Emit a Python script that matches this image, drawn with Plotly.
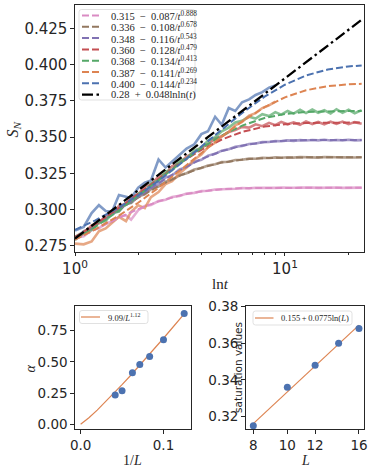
import plotly.graph_objects as go

# ---- top panel: S_N vs ln t ----
ln_t = [1.0, 1.1, 1.2, 1.3, 1.4, 1.5, 1.62, 1.75, 1.85, 2.0, 2.15, 2.3, 2.5, 2.7, 2.9,
        3.15, 3.4, 3.7, 4.0, 4.3, 4.65, 5.0, 5.4, 5.8, 6.25, 6.75, 7.25, 7.8, 8.4, 9.0,
        9.6, 10.3, 11.0, 11.8, 12.6, 13.5, 14.4, 15.4, 16.5, 17.6, 18.8, 20.1, 21.5, 23.2]

sim_pink = [0.2805, 0.2815, 0.2858, 0.2870, 0.2905, 0.2915, 0.2950, 0.2960, 0.2930, 0.2995,
            0.3025, 0.3032, 0.3058, 0.3068, 0.3087, 0.3094, 0.3110, 0.3115, 0.3127, 0.3129,
            0.3138, 0.3139, 0.3145, 0.3143, 0.3148, 0.3146, 0.3150, 0.3148, 0.3151, 0.3149,
            0.3151, 0.3149, 0.3150, 0.3152, 0.3149, 0.3151, 0.3149, 0.3151, 0.3150, 0.3152,
            0.3149, 0.3151, 0.3150, 0.3151]
sim_brown = [0.2800, 0.2838, 0.2875, 0.2920, 0.2935, 0.2975, 0.2995, 0.3040, 0.3045, 0.3090,
             0.3105, 0.3140, 0.3158, 0.3192, 0.3205, 0.3236, 0.3250, 0.3276, 0.3286, 0.3304,
             0.3312, 0.3327, 0.3330, 0.3342, 0.3343, 0.3351, 0.3350, 0.3357, 0.3355, 0.3360,
             0.3357, 0.3361, 0.3358, 0.3362, 0.3359, 0.3361, 0.3358, 0.3362, 0.3359, 0.3361,
             0.3360, 0.3362, 0.3359, 0.3361]
sim_purple = [0.2795, 0.2850, 0.2868, 0.2915, 0.2930, 0.2975, 0.2990, 0.3040, 0.3048, 0.3095,
              0.3112, 0.3155, 0.3176, 0.3220, 0.3235, 0.3276, 0.3292, 0.3330, 0.3343, 0.3372,
              0.3384, 0.3406, 0.3416, 0.3433, 0.3439, 0.3452, 0.3455, 0.3465, 0.3466, 0.3473,
              0.3471, 0.3477, 0.3474, 0.3479, 0.3476, 0.3480, 0.3477, 0.3481, 0.3476, 0.3480,
              0.3477, 0.3481, 0.3477, 0.3479]
sim_red = [0.2800, 0.2835, 0.2890, 0.2905, 0.2960, 0.2970, 0.3025, 0.3040, 0.3085, 0.3105,
           0.3158, 0.3170, 0.3228, 0.3245, 0.3300, 0.3320, 0.3365, 0.3392, 0.3428, 0.3450,
           0.3490, 0.3505, 0.3535, 0.3548, 0.3570, 0.3565, 0.3588, 0.3575, 0.3598, 0.3582,
           0.3605, 0.3588, 0.3602, 0.3585, 0.3608, 0.3590, 0.3604, 0.3587, 0.3606, 0.3591,
           0.3607, 0.3589, 0.3603, 0.3592]
sim_green = [0.2790, 0.2845, 0.2858, 0.2915, 0.2920, 0.2975, 0.2985, 0.3045, 0.3050, 0.3110,
             0.3120, 0.3180, 0.3198, 0.3262, 0.3272, 0.3335, 0.3350, 0.3408, 0.3425, 0.3475,
             0.3500, 0.3540, 0.3565, 0.3600, 0.3612, 0.3640, 0.3628, 0.3658, 0.3645, 0.3672,
             0.3655, 0.3680, 0.3662, 0.3688, 0.3665, 0.3690, 0.3668, 0.3685, 0.3662, 0.3692,
             0.3667, 0.3688, 0.3664, 0.3686]
sim_orange = [0.2765, 0.2760, 0.2780, 0.2850, 0.2870, 0.2905, 0.2950, 0.2920, 0.2985, 0.3030,
              0.3010, 0.3085, 0.3120, 0.3175, 0.3195, 0.3250, 0.3290, 0.3345, 0.3380, 0.3430,
              0.3460, 0.3505, 0.3535, 0.3580, 0.3605, 0.3648, 0.3665, 0.3700, 0.3718, 0.3745]
sim_blue = [0.2855, 0.2880, 0.2975, 0.3030, 0.2990, 0.2985, 0.3100, 0.3090, 0.3080, 0.3150,
            0.3185, 0.3200, 0.3345, 0.3290, 0.3330, 0.3380, 0.3420, 0.3450, 0.3520, 0.3540,
            0.3640, 0.3585, 0.3700, 0.3680, 0.3740, 0.3760, 0.3790, 0.3810, 0.3840, 0.3855]

fit_x = [1.0, 1.25, 1.6, 2.0, 2.5, 3.2, 4.0, 5.0, 6.3, 8.0, 10.0, 12.6, 16.0, 20.0, 23.2]
fit_pink = [0.2792, 0.2863, 0.2940, 0.3003, 0.3056, 0.3099, 0.3125, 0.3140, 0.3147, 0.3149, 0.3150, 0.3150, 0.3150, 0.3150, 0.3150]
fit_brown = [0.2812, 0.2897, 0.2995, 0.3082, 0.3162, 0.3237, 0.3288, 0.3324, 0.3345, 0.3355, 0.3359, 0.3360, 0.3360, 0.3360, 0.3360]
fit_purple = [0.2806, 0.2892, 0.2993, 0.3088, 0.3182, 0.3276, 0.3348, 0.3403, 0.3442, 0.3465, 0.3475, 0.3479, 0.3480, 0.3480, 0.3480]
fit_red = [0.2807, 0.2897, 0.3005, 0.3109, 0.3214, 0.3324, 0.3412, 0.3483, 0.3537, 0.3572, 0.3589, 0.3597, 0.3599, 0.3600, 0.3600]
fit_green = [0.2793, 0.2880, 0.2988, 0.3093, 0.3203, 0.3323, 0.3423, 0.3510, 0.3581, 0.3631, 0.3659, 0.3673, 0.3678, 0.3680, 0.3680]
fit_orange = [0.2793, 0.2863, 0.2953, 0.3047, 0.3150, 0.3274, 0.3389, 0.3503, 0.3611, 0.3706, 0.3774, 0.3823, 0.3851, 0.3864, 0.3867]
fit_blue = [0.2860, 0.2925, 0.3010, 0.3098, 0.3198, 0.3319, 0.3435, 0.3553, 0.3670, 0.3779, 0.3861, 0.3925, 0.3966, 0.3987, 0.3994]

lnln_x = [1.0, 23.2]
lnln_y = [0.2800, 0.4309]

fit_labels = [
    "0.315\u2002−\u20020.087/<i>t</i><sup>0.888</sup>",
    "0.336\u2002−\u20020.108/<i>t</i><sup>0.678</sup>",
    "0.348\u2002−\u20020.116/<i>t</i><sup>0.543</sup>",
    "0.360\u2002−\u20020.128/<i>t</i><sup>0.479</sup>",
    "0.368\u2002−\u20020.134/<i>t</i><sup>0.413</sup>",
    "0.387\u2002−\u20020.141/<i>t</i><sup>0.269</sup>",
    "0.400\u2002−\u20020.144/<i>t</i><sup>0.234</sup>",
]
lnln_label = "0.28\u2002+\u20020.048lnln(<i>t</i>)"

# ---- bottom left: exponent vs 1/L ----
inv_L = [0.0417, 0.05, 0.0625, 0.0714, 0.0833, 0.1, 0.125]
alpha_vals = [0.234, 0.269, 0.413, 0.479, 0.543, 0.678, 0.888]
alpha_fit_x = [0.0, 0.005, 0.01, 0.02, 0.03, 0.04, 0.05, 0.06, 0.07, 0.08, 0.09, 0.10, 0.11, 0.125]
alpha_fit_y = [0.0, 0.0241, 0.0523, 0.1137, 0.1791, 0.2472, 0.3173, 0.3892, 0.4627, 0.5371, 0.6128, 0.6894, 0.7673, 0.885]
alpha_label = "9.09/<i>L</i><sup>1.12</sup>"

# ---- bottom right: saturation vs L ----
L_vals = [8, 10, 12, 14, 16]
sat_vals = [0.315, 0.336, 0.348, 0.360, 0.368]
sat_fit_L = [8, 16]
sat_fit_y = [0.3162, 0.3699]
sat_label = "0.155\u2009+\u20090.0775ln(<i>L</i>)"

colors = ["#DA8BC3", "#937860", "#8172B3", "#C44E52", "#55A868", "#DD8452", "#4C72B0"]
W, H = 374, 474
INK = "#262626"
SERIF = "Liberation Serif"
SANS = "DejaVu Sans"

fig = go.Figure()

sims = [sim_pink, sim_brown, sim_purple, sim_red, sim_green, sim_orange, sim_blue]
fits = [fit_pink, fit_brown, fit_purple, fit_red, fit_green, fit_orange, fit_blue]

for vals, c in zip(sims, colors):
    fig.add_trace(go.Scatter(x=ln_t[:len(vals)], y=vals, mode="lines",
                             line=dict(color=c, width=2.6), opacity=0.7,
                             showlegend=False, xaxis="x", yaxis="y"))
for vals, c in zip(fits, colors):
    fig.add_trace(go.Scatter(x=fit_x, y=vals, mode="lines",
                             line=dict(color=c, width=2, dash="7px,3px"),
                             showlegend=False, xaxis="x", yaxis="y"))
fig.add_trace(go.Scatter(x=lnln_x, y=lnln_y, mode="lines",
                         line=dict(color="black", width=2.3, dash="11px,3.5px,2.5px,3.5px"),
                         showlegend=False, xaxis="x", yaxis="y"))

fig.add_trace(go.Scatter(x=alpha_fit_x, y=alpha_fit_y, mode="lines",
                         line=dict(color="#DD8452", width=1.2),
                         showlegend=False, xaxis="x2", yaxis="y2"))
fig.add_trace(go.Scatter(x=inv_L, y=alpha_vals, mode="markers",
                         marker=dict(color="#4C72B0", size=7),
                         showlegend=False, xaxis="x2", yaxis="y2"))

fig.add_trace(go.Scatter(x=sat_fit_L, y=sat_fit_y, mode="lines",
                         line=dict(color="#DD8452", width=1.2),
                         showlegend=False, xaxis="x3", yaxis="y3"))
fig.add_trace(go.Scatter(x=L_vals, y=sat_vals, mode="markers",
                         marker=dict(color="#4C72B0", size=7),
                         showlegend=False, xaxis="x3", yaxis="y3"))


def px_x(p):
    return p / W


def px_y(p):
    return 1 - p / H


def axis_style(size):
    return dict(showline=True, linecolor=INK, linewidth=1.25, mirror=True,
                ticks="outside", ticklen=3.5, tickwidth=1, tickcolor=INK,
                showgrid=False, zeroline=False, automargin=False,
                tickfont=dict(family=SANS, size=size, color=INK))


top_y = [0.275, 0.300, 0.325, 0.350, 0.375, 0.400, 0.425]

fig.update_layout(
    template="none",
    width=W, height=H,
    margin=dict(l=0, r=0, t=0, b=0, autoexpand=False),
    paper_bgcolor="white", plot_bgcolor="white",
    showlegend=False,
    xaxis=dict(domain=[px_x(75), px_x(364)], type="log", range=[0, 1.3766],
               tickmode="array", tickvals=[1, 10],
               ticktext=["10<sup>0</sup>", "10<sup>1</sup>"], anchor="y",
               minor=dict(ticks="outside", ticklen=2, tickcolor=INK,
                          tickmode="array", tickvals=[2, 3, 4, 5, 6, 7, 8, 9, 20]),
               **axis_style(15)),
    yaxis=dict(domain=[px_y(251.7), px_y(5)], range=[0.2709, 0.4411],
               tickmode="array", tickvals=top_y, tickformat=".3f", anchor="x",
               **axis_style(15)),
    xaxis2=dict(domain=[px_x(75), px_x(191)], range=[-0.0068, 0.1332],
                tickmode="array", tickvals=[0.0, 0.1], tickformat=".1f", anchor="y2",
                **axis_style(13.5)),
    yaxis2=dict(domain=[px_y(429.3), px_y(305.7)], range=[-0.040, 0.950],
                tickmode="array", tickvals=[0.0, 0.25, 0.5, 0.75], tickformat=".2f",
                anchor="x2", **axis_style(13.5)),
    xaxis3=dict(domain=[px_x(245.7), px_x(364.3)], type="log", range=[0.8814, 1.2193],
                tickmode="array", tickvals=[8, 10, 12, 16], ticktext=["8", "10", "12", "16"],
                anchor="y3", **axis_style(13.5)),
    yaxis3=dict(domain=[px_y(429.3), px_y(305.7)], range=[0.3131, 0.3805],
                tickmode="array", tickvals=[0.32, 0.34, 0.36, 0.38], tickformat=".2f",
                anchor="x3", **axis_style(13.5)),
)

shapes = []
annotations = []


def legend_box(x0, y0, x1, y1):
    r = 2.5
    path = (f"M {px_x(x0 + r)},{px_y(y0)} L {px_x(x1 - r)},{px_y(y0)} "
            f"Q {px_x(x1)},{px_y(y0)} {px_x(x1)},{px_y(y0 + r)} "
            f"L {px_x(x1)},{px_y(y1 - r)} Q {px_x(x1)},{px_y(y1)} {px_x(x1 - r)},{px_y(y1)} "
            f"L {px_x(x0 + r)},{px_y(y1)} Q {px_x(x0)},{px_y(y1)} {px_x(x0)},{px_y(y1 - r)} "
            f"L {px_x(x0)},{px_y(y0 + r)} Q {px_x(x0)},{px_y(y0)} {px_x(x0 + r)},{px_y(y0)} Z")
    shapes.append(dict(type="path", path=path, xref="paper", yref="paper",
                       line=dict(color="#d9d9d9", width=0.8),
                       fillcolor="rgba(255,255,255,0.85)", layer="above"))


def legend_entry(x0, x1, y, tx, label, color, dash, width, size):
    shapes.append(dict(type="line", xref="paper", yref="paper",
                       x0=px_x(x0), x1=px_x(x1), y0=px_y(y), y1=px_y(y),
                       line=dict(color=color, width=width, dash=dash), layer="above"))
    annotations.append(dict(x=px_x(tx), y=px_y(y), xref="paper", yref="paper",
                            text=label, showarrow=False, xanchor="left", yanchor="middle",
                            font=dict(family=SERIF, size=size, color=INK)))


# top legend
legend_box(79, 9.5, 195, 100)
for i in range(7):
    legend_entry(82, 100.5, 15.5 + 11.3 * i, 108.5, fit_labels[i], colors[i], "7px,3px", 2, 10.5)
legend_entry(82, 100.5, 15.5 + 11.3 * 7, 108.5, lnln_label, "black", "11px,3.5px,2.5px,3.5px", 2.3, 10.5)

# bottom legends
legend_box(79.5, 310.5, 148, 323.5)
legend_entry(81, 100, 317, 105.5, alpha_label, "#DD8452", "solid", 1.2, 8.5)
legend_box(253, 311, 352, 325)
legend_entry(255, 273.5, 318, 278.5, sat_label, "#DD8452", "solid", 1.2, 8.5)

# axis labels
labels = [
    (12.5, 130, "<i>S</i><sub><i>N</i></sub>", SERIF, 16, -90),
    (220, 284, "ln<i>t</i>", SERIF, 15, 0),
    (30, 368.5, "<i>α</i>", SERIF, 14, -90),
    (132, 460, "1/<i>L</i>", SERIF, 14, 0),
    (237.5, 367.5, "saturation values", SANS, 10.5, -90),
    (305, 460, "<i>L</i>", SERIF, 14, 0),
]
for x, y, text, fam, size, ang in labels:
    annotations.append(dict(x=px_x(x), y=px_y(y), xref="paper", yref="paper", text=text,
                            showarrow=False, textangle=ang, xanchor="center", yanchor="middle",
                            font=dict(family=fam, size=size, color=INK)))

fig.update_layout(shapes=shapes, annotations=annotations)

# the page body has a default 8px margin; drop it so the figure sits at the window corner
fig.write_html("out.html", config={"displayModeBar": False},
               post_script="document.body.style.margin = '0';")
